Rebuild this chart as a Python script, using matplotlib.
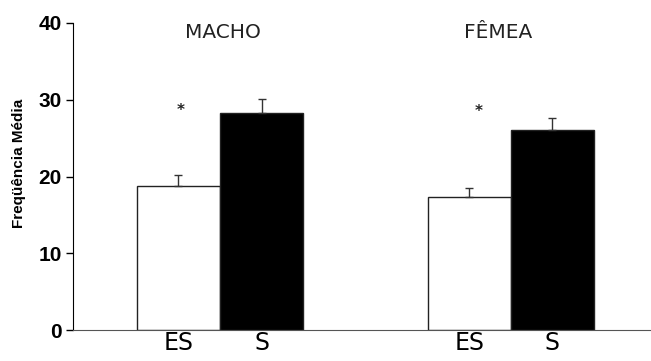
import numpy as np
import matplotlib.pyplot as plt

groups = ['MACHO', 'FÊMEA']
bar_labels = ['ES', 'S', 'ES', 'S']
means = [18.8, 28.3, 17.3, 26.1]
errors = [1.4, 1.8, 1.2, 1.5]
colors = ['white', 'black', 'white', 'black']
signif = [28.6, 28.5]  # heights of the asterisks over each group

positions = np.array([1.27, 2.27, 4.77, 5.77])

fig = plt.figure(figsize=(6.51, 3.61), dpi=100)
ax = fig.add_axes([73 / 651, 31 / 361, 578 / 651, 307 / 361])

ax.bar(positions, means, width=1.0, color=colors, edgecolor='#222222', linewidth=1)
ax.errorbar(positions, means, yerr=[np.zeros(4), errors], fmt='none',
            ecolor='#333333', elinewidth=1, capsize=3, capthick=1)

ax.set_xlim(0, 6.96)
ax.set_ylim(0, 40)
ax.set_yticks([0, 10, 20, 30, 40])
for lab in ax.get_yticklabels():
    lab.set_fontweight('bold')
    lab.set_fontfamily('Liberation Sans')
ax.tick_params(axis='y', labelsize=15, length=5, width=1, pad=3)

ax.set_xticks(positions)
ax.set_xticklabels(bar_labels, fontsize=17, fontfamily='DejaVu Sans')
ax.tick_params(axis='x', length=0, pad=1)
for lab, dx in zip(ax.get_xticklabels(), [-0.03, -0.05, -0.03, -0.05]):
    lab.set_x(lab.get_position()[0] + dx)

ax.set_ylabel('Freqüência Média', fontsize=11, fontweight='bold',
              fontfamily='Liberation Sans')
ax.yaxis.set_label_coords(-47 / 578, 0.544)

ax.spines['top'].set_visible(False)
ax.spines['right'].set_visible(False)
ax.spines['bottom'].set_color('#555555')

title_dx = [0.04, -0.145]
star_dx = [0.03, 0.11]
for i, g in enumerate(groups):
    cx = (positions[2 * i] + positions[2 * i + 1]) / 2
    ax.text(cx + title_dx[i], 38.8, g, ha='center', va='center', fontsize=14.5,
            fontfamily='DejaVu Sans', color='#222222')
    ax.text(positions[2 * i] + star_dx[i], signif[i], '*', ha='center', va='center',
            fontsize=11, fontweight='bold', color='#222222')

fig.savefig('out.png', dpi=100)
